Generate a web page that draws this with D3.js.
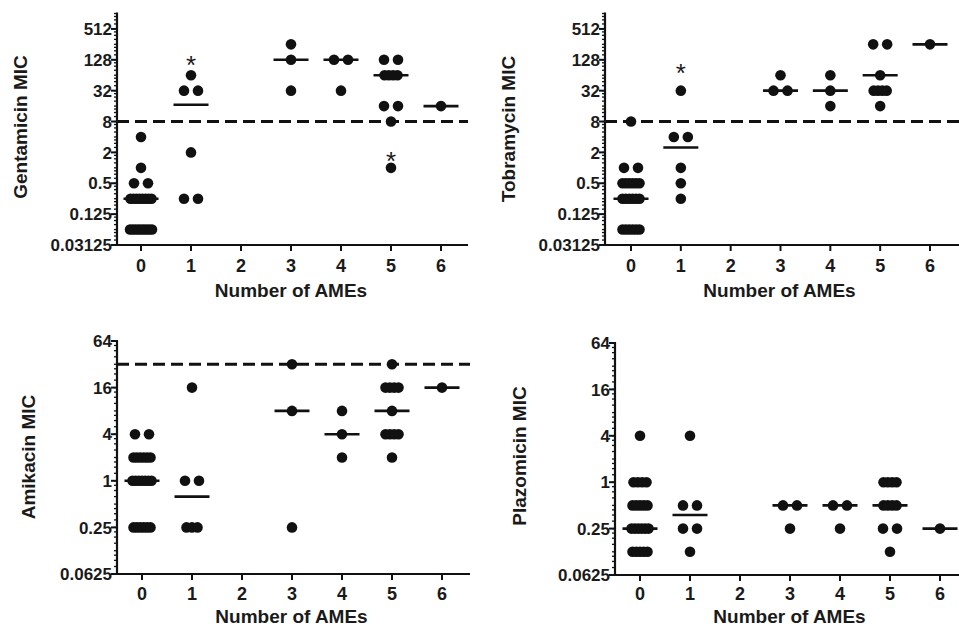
<!DOCTYPE html>
<meta charset="utf-8">
<script src="https://cdn.jsdelivr.net/npm/d3@7"></script>
<style>
  body { margin: 0; background: #fff; }
  text { font-family: "Liberation Sans", Arial, sans-serif; fill: #1a1a1a; }
</style>
<div id="my_dataviz"></div>
<script>

// categories (number of AMEs)
var categories = [0, 1, 2, 3, 4, 5, 6];

// MIC values per category, one list per drug
var gentamicin = [
  [4, 1, 0.5, 0.5, 0.25, 0.25, 0.25, 0.25, 0.25, 0.25, 0.25, 0.25, 0.0625, 0.0625, 0.0625, 0.0625, 0.0625, 0.0625, 0.0625, 0.0625, 0.0625],
  [64, 32, 32, 2, 0.25, 0.25],
  [],
  [256, 128, 32],
  [128, 128, 32],
  [128, 128, 64, 64, 64, 64, 16, 16, 8, 1],
  [16]
];
var tobramycin = [
  [8, 1, 1, 0.5, 0.5, 0.5, 0.5, 0.5, 0.5, 0.25, 0.25, 0.25, 0.25, 0.25, 0.25, 0.0625, 0.0625, 0.0625, 0.0625, 0.0625, 0.0625],
  [32, 4, 4, 1, 0.5, 0.25],
  [],
  [64, 32, 32],
  [64, 32, 16],
  [256, 256, 64, 32, 32, 32, 32, 16],
  [256]
];
var amikacin = [
  [4, 4, 2, 2, 2, 2, 2, 2, 1, 1, 1, 1, 1, 1, 1, 0.25, 0.25, 0.25, 0.25, 0.25, 0.25],
  [16, 1, 1, 0.25, 0.25, 0.25],
  [],
  [32, 8, 0.25],
  [8, 4, 2],
  [32, 16, 16, 16, 16, 8, 4, 4, 4, 4, 2],
  [16]
];
var plazomicin = [
  [4, 1, 1, 1, 1, 0.5, 0.5, 0.5, 0.5, 0.5, 0.25, 0.25, 0.25, 0.25, 0.25, 0.25, 0.125, 0.125, 0.125, 0.125, 0.125],
  [4, 0.5, 0.5, 0.25, 0.25, 0.125],
  [],
  [0.5, 0.5, 0.25],
  [0.5, 0.5, 0.25],
  [1, 1, 1, 1, 0.5, 0.5, 0.5, 0.5, 0.25, 0.25, 0.125],
  [0.25]
];

// medians drawn as horizontal bars
var gentamicinMedian = [0.25, 17, null, 128, 128, 64, 16];
var tobramycinMedian = [0.25, 2.5, null, 32, 32, 64, 256];
var amikacinMedian   = [1, 0.625, null, 8, 4, 8, 16];
var plazomicinMedian = [0.25, 0.375, null, 0.5, 0.5, 0.5, 0.25];

// breakpoints (dashed lines)
var gentamicinBreak = 8, tobramycinBreak = 8, amikacinBreak = 32, plazomicinBreak = null;

// asterisks [category, value]
var gentamicinStars = [[1, 128], [5, 1.7]];
var tobramycinStars = [[1, 90]];

// y tick values and labels
var topTicks = [0.03125, 0.125, 0.5, 2, 8, 32, 128, 512];
var topTickLabels = ["0.03125", "0.125", "0.5", "2", "8", "32", "128", "512"];
var bottomTicks = [0.0625, 0.25, 1, 4, 16, 64];
var bottomTickLabels = ["0.0625", "0.25", "1", "4", "16", "64"];

var svg = d3.select("#my_dataviz").append("svg")
  .attr("width", 959).attr("height", 629);

var panels = [
  {title: "Gentamicin MIC", data: gentamicin, med: gentamicinMedian, brk: gentamicinBreak, stars: gentamicinStars,
   ticks: topTicks, labels: topTickLabels, dom: [0.03125, 1024],
   left: 117, right: 468, top: 13.5, bottom: 245, x0: 141, x6: 441, ttlX: 20, ttlY: 127, tickY: 272, xTtlY: 297},
  {title: "Tobramycin MIC", data: tobramycin, med: tobramycinMedian, brk: tobramycinBreak, stars: tobramycinStars,
   ticks: topTicks, labels: topTickLabels, dom: [0.03125, 1024],
   left: 605, right: 959, top: 13.5, bottom: 245, x0: 631, x6: 930, ttlX: 508, ttlY: 129, tickY: 272, xTtlY: 297},
  {title: "Amikacin MIC", data: amikacin, med: amikacinMedian, brk: amikacinBreak, stars: [],
   ticks: bottomTicks, labels: bottomTickLabels, dom: [0.0625, 64],
   left: 117, right: 470, top: 341, bottom: 574, x0: 142, x6: 442, ttlX: 28, ttlY: 457, tickY: 600, xTtlY: 623},
  {title: "Plazomicin MIC", data: plazomicin, med: plazomicinMedian, brk: plazomicinBreak, stars: [],
   ticks: bottomTicks, labels: bottomTickLabels, dom: [0.0625, 64],
   left: 615, right: 959, top: 343, bottom: 575, x0: 640, x6: 940, ttlX: 519, ttlY: 456, tickY: 600, xTtlY: 623}
];

panels.forEach(drawPanel);

function drawPanel(p) {
  var g = svg.append("g");
  var x = d3.scaleLinear().domain([0, 6]).range([p.x0, p.x6]);
  var y = d3.scaleLog().base(2).domain(p.dom).range([p.bottom, p.top]);

  // minor ticks on y
  var minor = [];
  for (var k = Math.round(Math.log2(p.dom[0])); k < Math.round(Math.log2(p.dom[1])); k++) {
    [1, 1.25, 1.5, 1.75].forEach(function(m) { minor.push(Math.pow(2, k) * m); });
  }
  minor.push(p.dom[1]);
  g.selectAll(".minor").data(minor).join("line")
    .attr("x1", p.left - 3).attr("x2", p.left)
    .attr("y1", function(d) { return y(d); }).attr("y2", function(d) { return y(d); })
    .attr("stroke", "#111").attr("stroke-width", 1.3);

  // major ticks + labels
  g.selectAll(".major").data(p.ticks).join("line")
    .attr("x1", p.left - 6).attr("x2", p.left)
    .attr("y1", function(d) { return y(d); }).attr("y2", function(d) { return y(d); })
    .attr("stroke", "#111").attr("stroke-width", 2);
  g.selectAll(".ylab").data(p.ticks).join("text")
    .attr("x", p.left - 5).attr("y", function(d) { return y(d); })
    .attr("dy", "0.36em").attr("text-anchor", "end")
    .style("font-size", "17px").style("font-weight", "bold")
    .text(function(d, i) { return p.labels[i]; });

  // axes lines
  g.append("line").attr("x1", p.left).attr("x2", p.left).attr("y1", p.top - 1).attr("y2", p.bottom + 1)
    .attr("stroke", "#111").attr("stroke-width", 2.2);
  g.append("line").attr("x1", p.left).attr("x2", p.right).attr("y1", p.bottom).attr("y2", p.bottom)
    .attr("stroke", "#111").attr("stroke-width", 2.2);

  // x ticks
  g.selectAll(".xt").data(categories).join("line")
    .attr("x1", function(d) { return x(d); }).attr("x2", function(d) { return x(d); })
    .attr("y1", p.bottom).attr("y2", p.bottom + 6)
    .attr("stroke", "#111").attr("stroke-width", 2);
  g.selectAll(".xl").data(categories).join("text")
    .attr("x", function(d) { return x(d); }).attr("y", p.tickY)
    .attr("text-anchor", "middle")
    .style("font-size", "18px").style("font-weight", "bold")
    .text(function(d) { return d; });

  // titles
  g.append("text").attr("x", (p.left + p.x6) / 2 + 12).attr("y", p.xTtlY)
    .attr("text-anchor", "middle").style("font-size", "19px").style("font-weight", "bold")
    .text("Number of AMEs");
  g.append("text").attr("transform", "translate(" + (p.ttlX + 7) + "," + p.ttlY + ") rotate(-90)")
    .attr("text-anchor", "middle").style("font-size", "19px").style("font-weight", "bold")
    .text(p.title);

  // breakpoint
  if (p.brk) {
    g.append("line").attr("x1", p.left).attr("x2", p.right)
      .attr("y1", y(p.brk)).attr("y2", y(p.brk))
      .attr("stroke", "#111").attr("stroke-width", 3).attr("stroke-dasharray", "12,6");
  }

  // medians
  g.selectAll(".med").data(p.med.map(function(v, i) { return {c: categories[i], v: v}; })
      .filter(function(d) { return d.v != null; }))
    .join("line")
    .attr("x1", function(d) { return x(d.c) - 17.5; }).attr("x2", function(d) { return x(d.c) + 17.5; })
    .attr("y1", function(d) { return y(d.v); }).attr("y2", function(d) { return y(d.v); })
    .attr("stroke", "#111").attr("stroke-width", 2.6);

  // dots, spread sideways when values repeat
  var pts = [];
  p.data.forEach(function(vals, ci) {
    var groups = d3.group(vals, function(v) { return v; });
    groups.forEach(function(arr, v) {
      var n = arr.length;
      var span = n === 1 ? 0 : (n === 2 ? 14 : Math.min(22, 5 + 2 * n));
      arr.forEach(function(_, j) {
        var off = n === 1 ? 0 : -span / 2 + j * span / (n - 1);
        pts.push({c: categories[ci], v: v, off: off});
      });
    });
  });
  g.selectAll(".dot").data(pts).join("circle")
    .attr("cx", function(d) { return x(d.c) + d.off; })
    .attr("cy", function(d) { return y(d.v); })
    .attr("r", 5.3).attr("fill", "#111");

  // asterisks
  g.selectAll(".star").data(p.stars).join("text")
    .attr("x", function(d) { return x(d[0]); })
    .attr("y", function(d) { return y(d[1]) + 14; })
    .attr("text-anchor", "middle").style("font-size", "26px")
    .text("*");
}
</script>
